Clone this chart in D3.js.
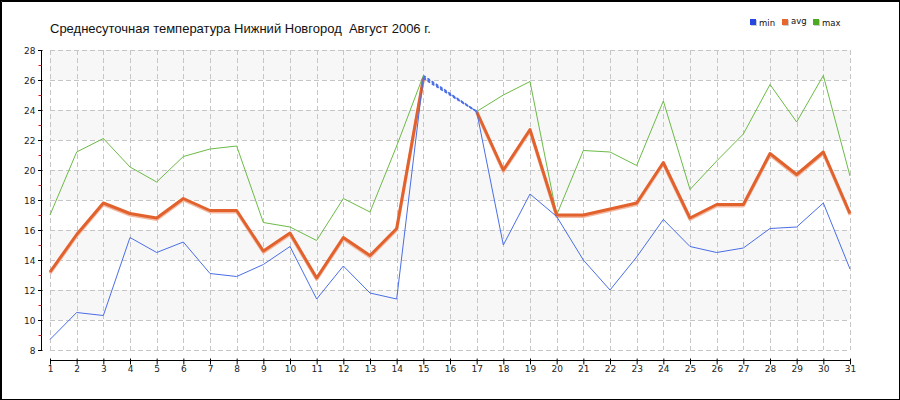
<!DOCTYPE html>
<html>
<head>
<meta charset="utf-8">
<script src="https://cdn.jsdelivr.net/npm/d3@7"></script>
<style>
  body { margin: 0; background: #fff; }
  svg { display: block; }
  .tick-label { font-family: 'DejaVu Sans', sans-serif; font-size: 9px; fill: #222; }
  .title { white-space: pre; }
</style>
</head>
<body>
<svg class="chart"></svg>
<script>
// Data
var days = d3.range(1, 32);
var minTemp = [8.7, 10.5, 10.3, 15.5, 14.5, 15.2, 13.1, 12.9, 13.7, 14.9, 11.4, 13.6, 11.8, 11.4, 26.2, null,
  23.9, 15.0, 18.4, 16.9, 14.0, 12.0, 14.2, 16.7, 14.9, 14.5, 14.8, 16.1, 16.2, 17.8, 13.4];
var avgTemp = [13.2, 15.7, 17.8, 17.1, 16.8, 18.1, 17.3, 17.3, 14.6, 15.8, 12.8, 15.5, 14.3, 16.1, 26.1, null,
  23.9, 20.0, 22.7, 17.0, 17.0, 17.4, 17.8, 20.5, 16.8, 17.7, 17.7, 21.1, 19.7, 21.2, 17.1];
var maxTemp = [17.0, 21.2, 22.1, 20.2, 19.2, 20.9, 21.4, 21.6, 16.5, 16.2, 15.3, 18.1, 17.2, 21.6, 26.3, null,
  23.9, 25.0, 25.9, 17.0, 21.3, 21.2, 20.3, 24.6, 18.7, 20.6, 22.4, 25.7, 23.2, 26.3, 19.6];
var seriesNames = ['min', 'avg', 'max'];
var yTicks = d3.range(8, 29, 2);
var titleText = 'Среднесуточная температура Нижний Новгород  Август 2006 г.';

var W = 900, H = 400;
var plot = {left: 50, right: 850, top: 50, bottom: 350};

var colors = {min: '#4a6ee6', avg: '#e2622e', max: '#6cbb46'};
var legendColors = {min: '#2448e0', avg: '#e8662c', max: '#4caa22'};

var x = d3.scaleLinear().domain([1, 31]).range([plot.left, plot.right]);
var y = d3.scaleLinear().domain([8, 28]).range([plot.bottom, plot.top]);

var svg = d3.select('.chart')
  .attr('width', W)
  .attr('height', H);

svg.append('rect')
  .attr('width', W).attr('height', H)
  .attr('fill', '#fff');

// bands
var bands = [[26, 28], [22, 24], [18, 20], [14, 16], [10, 12]];
svg.append('g').selectAll('rect')
  .data(bands)
  .enter().append('rect')
  .attr('x', plot.left)
  .attr('width', plot.right - plot.left)
  .attr('y', function (d) { return y(d[1]); })
  .attr('height', function (d) { return y(d[0]) - y(d[1]); })
  .attr('fill', '#f7f7f7');

// grid
var grid = svg.append('g')
  .attr('stroke', '#c6c6c6')
  .attr('stroke-dasharray', '5,3')
  .attr('shape-rendering', 'crispEdges');

grid.selectAll('.hg')
  .data(yTicks)
  .enter().append('line')
  .attr('x1', plot.left).attr('x2', plot.right)
  .attr('y1', function (d) { return y(d) + 0.5; })
  .attr('y2', function (d) { return y(d) + 0.5; });

grid.selectAll('.vg')
  .data(days)
  .enter().append('line')
  .attr('x1', function (d) { return Math.round(x(d)) + 0.5; })
  .attr('x2', function (d) { return Math.round(x(d)) + 0.5; })
  .attr('y1', plot.top).attr('y2', plot.bottom);

// y axis
var yAxisG = svg.append('g').attr('transform', 'translate(41.5,0)');
var yAxis = d3.axisLeft(y).tickValues(yTicks).tickSize(3).tickPadding(3);
yAxisG.call(yAxis);
yAxisG.select('.domain').attr('stroke', '#000').attr('d', 'M0,' + (plot.top) + 'V' + (plot.bottom + 0.5));
yAxisG.selectAll('.tick line').attr('stroke', '#000').attr('x2', -3.5).attr('x1', 1);
yAxisG.selectAll('.tick text').attr('class', 'tick-label').attr('dy', '0.35em');
yAxisG.selectAll('.minor')
  .data(d3.range(9, 28, 2))
  .enter().append('line')
  .attr('stroke', '#d02020')
  .attr('x1', -3).attr('x2', 0)
  .attr('y1', function (d) { return Math.round(y(d)) + 0.5; })
  .attr('y2', function (d) { return Math.round(y(d)) + 0.5; });

// x axis
var xAxisG = svg.append('g').attr('transform', 'translate(0,360.5)');
var xAxis = d3.axisBottom(x).tickValues(days).tickFormat(d3.format('d')).tickSize(4).tickPadding(1);
xAxisG.call(xAxis);
xAxisG.select('.domain').attr('stroke', '#000').attr('d', 'M' + plot.left + ',0H' + (plot.right + 0.5));
xAxisG.selectAll('.tick line').attr('stroke', '#000').attr('y1', -2);
xAxisG.selectAll('.tick text').attr('class', 'tick-label');
svg.selectAll('.domain').attr('fill', 'none');

// lines
function seriesData (vals) {
  return days.map(function (d, i) { return {day: d, v: vals[i]}; });
}
var line = d3.line()
  .defined(function (d) { return d.v !== null; })
  .x(function (d) { return x(d.day); })
  .y(function (d) { return y(d.v); });

var allSeries = [
  {name: 'max', vals: maxTemp, width: 1},
  {name: 'avg', vals: avgTemp, width: 3},
  {name: 'min', vals: minTemp, width: 1}
];

var linesG = svg.append('g').attr('fill', 'none').attr('stroke-linejoin', 'round');

// shadow under avg
linesG.append('path')
  .datum(seriesData(avgTemp))
  .attr('d', line)
  .attr('transform', 'translate(0,1.5)')
  .attr('stroke', '#f3b8a0')
  .attr('stroke-width', 3);

allSeries.forEach(function (s) {
  linesG.append('path')
    .datum(seriesData(s.vals))
    .attr('d', line)
    .attr('stroke', colors[s.name])
    .attr('stroke-width', s.width);
});

// dashed gap connectors (missing day)
allSeries.forEach(function (s) {
  var pts = seriesData(s.vals).filter(function (d) { return d.v !== null; });
  var gaps = [];
  for (var i = 1; i < pts.length; i++) {
    if (pts[i].day - pts[i - 1].day > 1) gaps.push([pts[i - 1], pts[i]]);
  }
  gaps.forEach(function (g) {
    linesG.append('path')
      .datum(g)
      .attr('d', line)
      .attr('stroke', colors.min)
      .attr('stroke-width', 1.5)
      .attr('stroke-dasharray', '3,2');
  });
});

// title
svg.append('text')
  .attr('class', 'title')
  .attr('x', 50)
  .attr('y', 33)
  .attr('font-family', 'Liberation Sans, Arial, sans-serif')
  .attr('font-size', 13)
  .attr('fill', '#111')
  .text(titleText);

// legend
var legend = svg.append('g').attr('transform', 'translate(750,19)');
var legendX = [0, 32, 63];
var items = legend.selectAll('g')
  .data(seriesNames)
  .enter().append('g')
  .attr('transform', function (d, i) { return 'translate(' + legendX[i] + ',0)'; });
items.append('rect')
  .attr('x', 1).attr('y', 1).attr('width', 6).attr('height', 6)
  .attr('fill', '#ccc');
items.append('rect')
  .attr('width', 6).attr('height', 6)
  .attr('fill', function (d) { return legendColors[d]; });
items.append('text')
  .attr('x', 9)
  .attr('y', function (d) { return d === 'avg' ? 5 : 7; })
  .attr('font-family', 'DejaVu Sans, sans-serif')
  .attr('font-size', 8.5)
  .attr('fill', '#111')
  .text(function (d) { return d; });

// border
svg.append('rect')
  .attr('x', 0.5).attr('y', 0.5)
  .attr('width', W - 1).attr('height', H - 1)
  .attr('fill', 'none')
  .attr('stroke', '#000');
svg.append('path')
  .attr('d', 'M1.5,' + H + 'V1.5H' + W)
  .attr('fill', 'none')
  .attr('stroke', '#000');
</script>
</body>
</html>
